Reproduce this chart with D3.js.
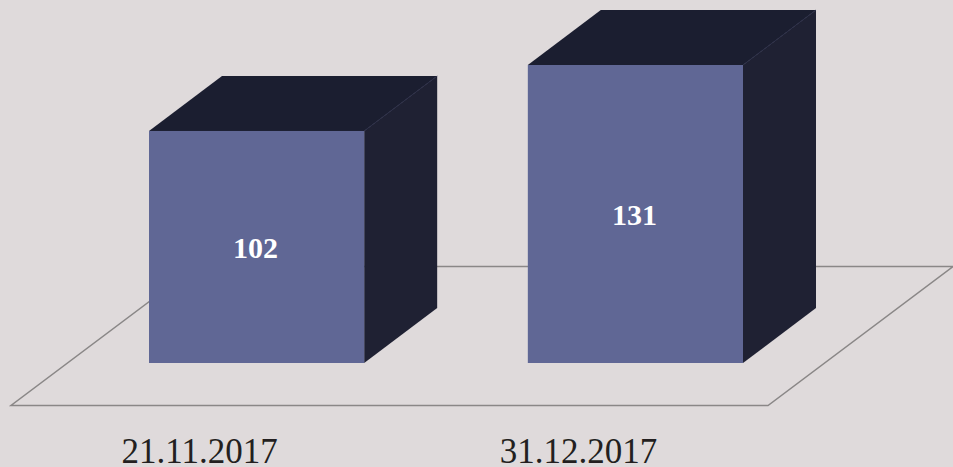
<!DOCTYPE html>
<html>
<head>
<meta charset="utf-8">
<script src="https://cdn.jsdelivr.net/npm/d3@7"></script>
<style>
  html, body { margin: 0; padding: 0; background: #dfdadb; }
  svg { display: block; }
</style>
</head>
<body>
<div id="chart"></div>
<script>
const categories = ["21.11.2017", "31.12.2017"];
const values = [102, 131];

const width = 953;
const height = 467;
const baseY = 363;
const depthX = 73;
const depthY = -55;

const svg = d3.select("#chart").append("svg")
  .attr("width", width)
  .attr("height", height);

const xScale = d3.scaleBand()
  .domain(categories)
  .range([149, 743])
  .paddingInner(0.432)
  .paddingOuter(0);

const yScale = d3.scaleLinear().domain([0, 131]).range([baseY, 65]);

// floor
svg.append("path")
  .attr("d", d3.line()([[11, 405.5], [768, 405.5], [953, 266.5], [196, 266.5]]) + "Z")
  .attr("fill", "none")
  .attr("stroke", "#8a8787")
  .attr("stroke-width", 1.5);

const bars = svg.selectAll("g.bar").data(categories).enter().append("g").attr("class", "bar");

const x0 = (c) => xScale(c);
const x1 = (c) => xScale(c) + xScale.bandwidth();
const barTop = (c, i) => yScale(values[i]);
const poly = d3.line();

// right side
bars.append("path")
  .attr("fill", "#1f2133")
  .attr("d", (c, i) => poly([[x1(c), barTop(c, i)], [x1(c) + depthX, barTop(c, i) + depthY], [x1(c) + depthX, baseY + depthY], [x1(c), baseY]]) + "Z");

// top side
bars.append("path")
  .attr("fill", "#1b1e30")
  .attr("d", (c, i) => poly([[x0(c), barTop(c, i)], [x0(c) + depthX, barTop(c, i) + depthY], [x1(c) + depthX, barTop(c, i) + depthY], [x1(c), barTop(c, i)]]) + "Z");

// edge between top and side
bars.append("path")
  .attr("fill", "none")
  .attr("stroke", "#2b2e47")
  .attr("stroke-width", 1)
  .attr("d", (c, i) => poly([[x1(c), barTop(c, i)], [x1(c) + depthX, barTop(c, i) + depthY]]));

// front
bars.append("rect")
  .attr("x", x0)
  .attr("y", barTop)
  .attr("width", xScale.bandwidth())
  .attr("height", (c, i) => baseY - barTop(c, i))
  .attr("fill", "#606795");

bars.append("text")
  .attr("x", (c) => x0(c) + xScale.bandwidth() / 2 - 1)
  .attr("y", (c, i) => (barTop(c, i) + baseY) / 2 + 11)
  .attr("text-anchor", "middle")
  .attr("font-family", "'Liberation Serif', serif")
  .attr("font-weight", "bold")
  .attr("font-size", 30)
  .attr("fill", "#ffffff")
  .text((c, i) => values[i]);

bars.append("text")
  .attr("x", (c) => x0(c) + xScale.bandwidth() / 2 - 57)
  .attr("y", 463)
  .attr("text-anchor", "middle")
  .attr("font-family", "'Liberation Serif', serif")
  .attr("font-size", 35)
  .attr("fill", "#231f20")
  .text((c) => c);
</script>
</body>
</html>
